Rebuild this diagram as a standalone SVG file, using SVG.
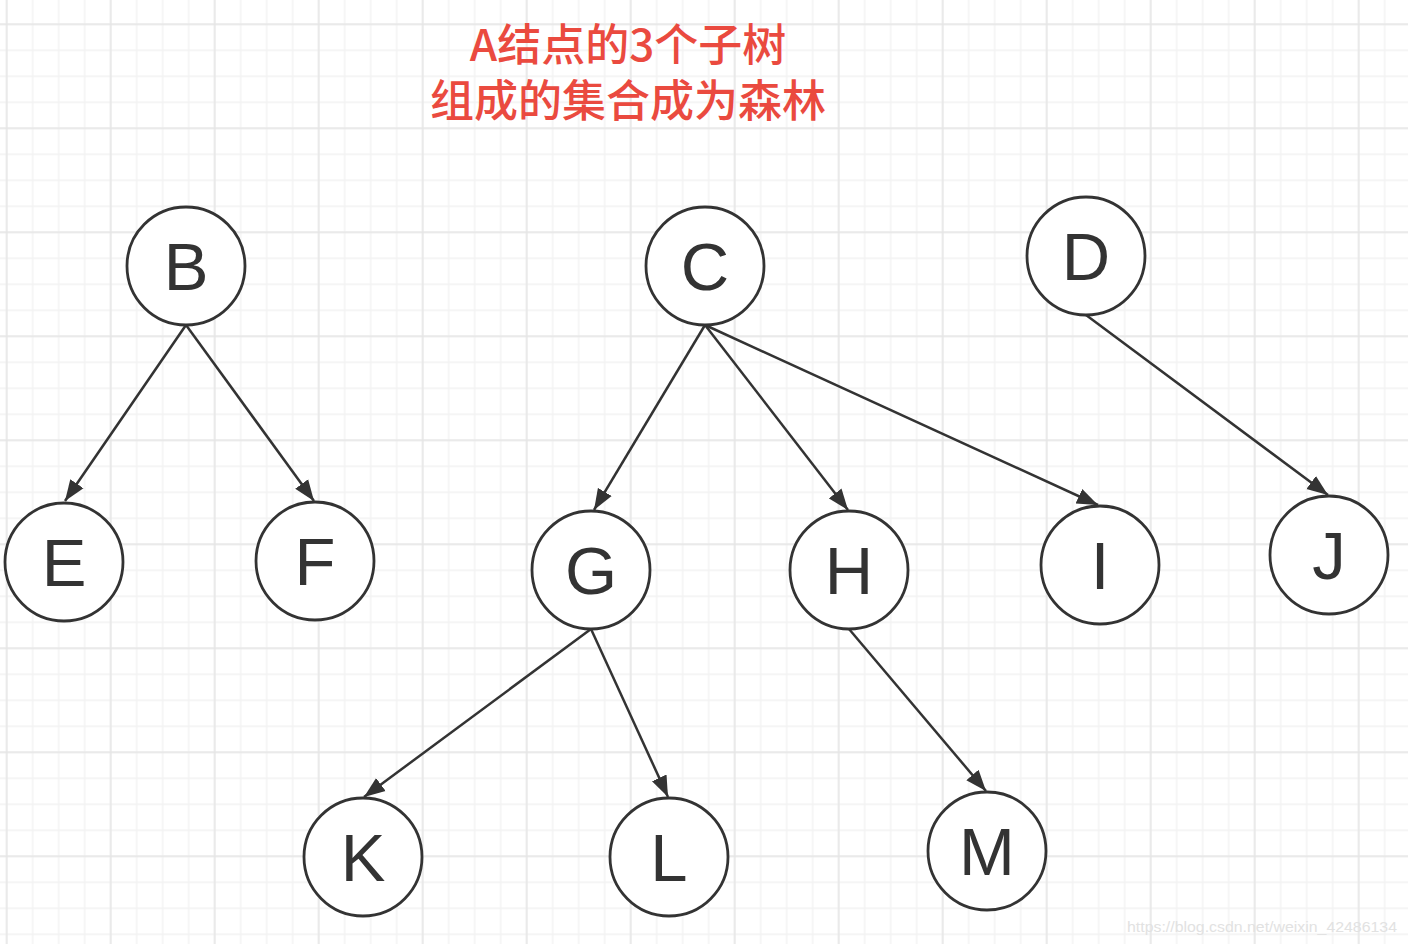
<svg xmlns="http://www.w3.org/2000/svg" width="1408" height="944" viewBox="0 0 1408 944">
<defs>
<pattern id="minor" patternUnits="userSpaceOnUse" x="-6.3" y="11.3" width="26" height="26">
<path d="M13 0V26M0 13H26" stroke="#f2f2f2" stroke-width="1.3" fill="none"/>
</pattern>
<pattern id="major" patternUnits="userSpaceOnUse" x="-45.3" y="-27.7" width="104" height="104">
<path d="M52 0V104M0 52H104" stroke="#e6e6e6" stroke-width="1.5" fill="none"/>
</pattern>
<marker id="arr" markerUnits="userSpaceOnUse" markerWidth="24" markerHeight="18" refX="21" refY="8" orient="auto" viewBox="0 0 24 16">
<path d="M0 0L21 8L0 16Z" fill="#333"/>
</marker>
</defs>
<style>
.n circle{fill:#fff;stroke:#333;stroke-width:2.8}
.n text{font-family:"Liberation Sans",Arial,sans-serif;font-size:67px;fill:#333;text-anchor:middle}
#edges line{stroke:#333;stroke-width:2.5;marker-end:url(#arr)}
.title{font-family:"Noto Sans CJK SC","Noto Sans",sans-serif;font-size:44px;font-weight:500;fill:#ea4a3f;text-anchor:middle}
</style>
<rect width="1408" height="944" fill="#fff"/>
<rect width="1408" height="944" fill="url(#minor)"/>
<rect width="1408" height="944" fill="url(#major)"/>
<text class="title"><tspan x="628" y="61">A结点的3个子树</tspan><tspan x="628" y="117">组成的集合成为森林</tspan></text>
<g id="edges">
<line x1="186" y1="325" x2="65" y2="501"/>
<line x1="186" y1="325" x2="314" y2="501"/>
<line x1="705" y1="325" x2="594" y2="510"/>
<line x1="705" y1="325" x2="848" y2="510"/>
<line x1="705" y1="325" x2="1098" y2="505"/>
<line x1="1086" y1="315" x2="1328" y2="495"/>
<line x1="591" y1="629" x2="364" y2="797"/>
<line x1="591" y1="629" x2="668" y2="797"/>
<line x1="849" y1="629" x2="986" y2="791"/>
</g>
<g id="B" class="n"><circle cx="186" cy="266" r="59"/><text x="186" y="290">B</text></g>
<g id="C" class="n"><circle cx="705" cy="266" r="59"/><text x="705" y="290">C</text></g>
<g id="D" class="n"><circle cx="1086" cy="256" r="59"/><text x="1086" y="280">D</text></g>
<g id="E" class="n"><circle cx="64" cy="562" r="59"/><text x="64" y="586">E</text></g>
<g id="F" class="n"><circle cx="315" cy="561" r="59"/><text x="315" y="585">F</text></g>
<g id="G" class="n"><circle cx="591" cy="570" r="59"/><text x="591" y="594">G</text></g>
<g id="H" class="n"><circle cx="849" cy="570" r="59"/><text x="849" y="594">H</text></g>
<g id="I" class="n"><circle cx="1100" cy="565" r="59"/><text x="1100" y="589">I</text></g>
<g id="J" class="n"><circle cx="1329" cy="555" r="59"/><text x="1329" y="579">J</text></g>
<g id="K" class="n"><circle cx="363" cy="857" r="59"/><text x="363" y="881">K</text></g>
<g id="L" class="n"><circle cx="669" cy="857" r="59"/><text x="669" y="881">L</text></g>
<g id="M" class="n"><circle cx="987" cy="851" r="59"/><text x="987" y="875">M</text></g>
<text x="1127" y="932" font-family="Liberation Sans,Arial,sans-serif" font-size="15.5" textLength="270" lengthAdjust="spacingAndGlyphs" fill="#e2e2e2">https://blog.csdn.net/weixin_42486134</text>
</svg>
